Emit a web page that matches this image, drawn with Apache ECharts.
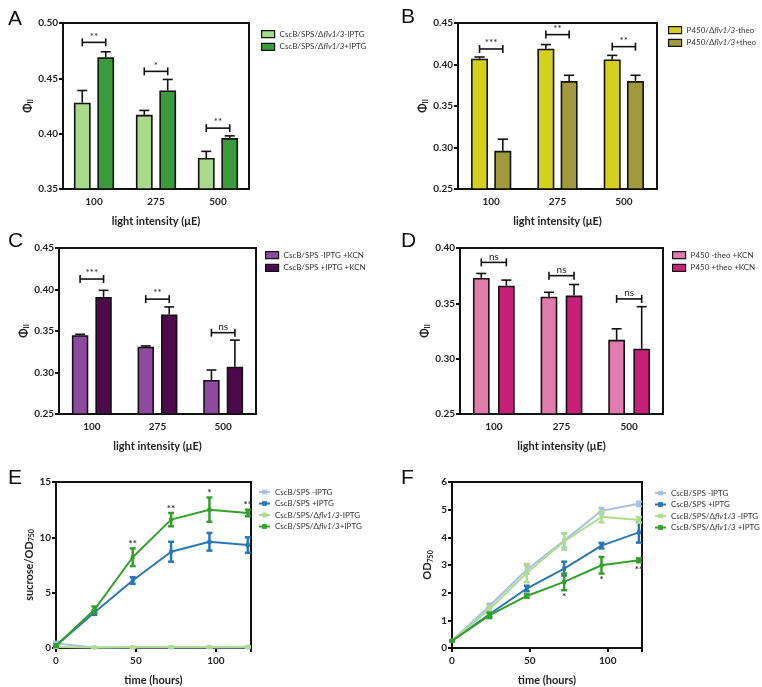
<!DOCTYPE html>
<html>
<head>
<meta charset="utf-8">
<title>Phi II and sucrose</title>
<script src="https://cdn.jsdelivr.net/npm/echarts@6/dist/echarts.min.js"></script>
<style>
  html, body { margin: 0; padding: 0; background: #fff; }
  #main { width: 762px; height: 687px; }
</style>
</head>
<body>
<div id="main"></div>
<script>
// categories + values
var lightCats = ['100', '275', '500'];

var aMinus = [0.428, 0.417, 0.378], aMinusErr = [0.011, 0.004, 0.006];
var aPlus = [0.469, 0.439, 0.396], aPlusErr = [0.005, 0.010, 0.002];
var aSigY = [0.4825, 0.4563, 0.405], aSig = ['**', '*', '**'];

var bMinus = [0.407, 0.419, 0.406], bMinusErr = [0.002, 0.005, 0.005];
var bPlus = [0.296, 0.380, 0.380], bPlusErr = [0.014, 0.007, 0.007];
var bSigY = [0.4187, 0.436, 0.4215], bSig = ['***', '**', '**'];

var cMinus = [0.345, 0.331, 0.291], cMinusErr = [0.001, 0.001, 0.012];
var cPlus = [0.391, 0.370, 0.307], cPlusErr = [0.008, 0.009, 0.032];
var cSigY = [0.4126, 0.3884, 0.348], cSig = ['***', '**', 'ns'];

var dMinus = [0.373, 0.356, 0.317], dMinusErr = [0.004, 0.004, 0.010];
var dPlus = [0.366, 0.357, 0.309], dPlusErr = [0.005, 0.010, 0.038];
var dSigY = [0.387, 0.375, 0.354], dSig = ['ns', 'ns', 'ns'];

var hours = [0, 24, 48, 72, 96, 120];

var eCtrl = [0.40, 0.05, 0.05, 0.05, 0.05, 0.05], eCtrlErr = [0.15, 0.03, 0.03, 0.03, 0.03, 0.03];
var eInd = [0.20, 3.20, 6.10, 8.70, 9.60, 9.30], eIndErr = [0.10, 0.20, 0.30, 0.90, 0.80, 0.70];
var eMutCtrl = [0.10, 0.05, 0.08, 0.10, 0.10, 0.12], eMutCtrlErr = [0.05, 0.03, 0.03, 0.03, 0.03, 0.03];
var eMutInd = [0.20, 3.45, 8.20, 11.60, 12.50, 12.20], eMutIndErr = [0.10, 0.30, 0.80, 0.60, 1.10, 0.30];
var eSigX = [48, 72, 96, 120], eSigY = [9.4, 12.6, 14.0, 12.9], eSig = ['**', '**', '*', '**'];

var fCtrl = [0.26, 1.52, 2.83, 3.88, 4.96, 5.21], fCtrlErr = [0.02, 0.08, 0.15, 0.25, 0.10, 0.08];
var fInd = [0.26, 1.22, 2.15, 2.87, 3.70, 4.18], fIndErr = [0.02, 0.08, 0.10, 0.25, 0.10, 0.37];
var fMutCtrl = [0.26, 1.40, 2.71, 3.85, 4.74, 4.63], fMutCtrlErr = [0.02, 0.10, 0.33, 0.30, 0.20, 0.10];
var fMutInd = [0.26, 1.18, 1.88, 2.39, 2.99, 3.17], fMutIndErr = [0.02, 0.10, 0.06, 0.30, 0.30, 0.07];
var fSigX = [72, 96, 120], fSigY = [1.85, 2.45, 2.82], fSig = ['*', '*', '**'];

var FONT = 'Lato';
var INK = '#222';

var chart = echarts.init(document.getElementById('main'));

var grids = [], xAxes = [], yAxes = [], series = [], legends = [], titles = [];

// legend names get a panel suffix so E and A do not share a legend entry
function legendText(name) {
  return name.replace(/~\w$/, '').replace('flv1/3', '{i|flv1/3}');
}

function yName(txt) {
  return {
    name: txt,
    nameLocation: 'middle',
    nameRotate: 90,
    nameTextStyle: {
      color: INK, fontFamily: FONT, fontWeight: 'bold', fontSize: 11,
      rich: {
        s: { fontSize: 7, fontWeight: 'bold', fontFamily: FONT, color: INK, padding: [6, 0, 0, 0] }
      }
    }
  };
}

function axisBase() {
  return {
    axisLine: { show: true, lineStyle: { color: '#111', width: 2 } },
    axisTick: { show: true, length: 4, inside: false, lineStyle: { color: '#111', width: 2 } },
    splitLine: { show: false },
    axisLabel: { color: INK, fontFamily: FONT, fontWeight: 'bold', fontSize: 10 }
  };
}

function legendStyle() {
  return { color: '#333', fontFamily: FONT, fontSize: 8,
    rich: { i: { fontStyle: 'italic', fontFamily: FONT, fontSize: 8, color: '#333' } } };
}

// offsets of the two bars in a category
function barOffset(api, barW, gap) {
  var band = api.size([1, 0])[0];
  var bw = band * barW;
  return { bw: bw, off: (bw + bw * gap) / 2 };
}

function barPanel(i, box, leg, yMin, yMax, yStep, names, colors, minus, minusErr, plus, plusErr, sigY, sig, barW, gap) {
  grids.push({ left: box[0], top: box[1], width: box[2], height: box[3], show: true,
    borderColor: '#111', borderWidth: 2, containLabel: false });
  var xa = axisBase();
  xa.type = 'category';
  xa.data = lightCats;
  xa.gridIndex = i;
  xa.axisTick = { show: false };
  xa.axisLabel.margin = 8;
  xa.name = 'light intensity (\u03bcE)';
  xa.nameLocation = 'middle';
  xa.nameGap = 27;
  xa.nameTextStyle = { color: INK, fontFamily: FONT, fontWeight: 'bold', fontSize: 11 };
  xAxes.push(xa);
  var ya = Object.assign(axisBase(), yName('\u03a6{s|II}'));
  ya.type = 'value';
  ya.gridIndex = i;
  ya.min = yMin; ya.max = yMax; ya.interval = yStep;
  ya.nameGap = 26;
  ya.axisLabel.formatter = function (v) { return v.toFixed(2); };
  ya.axisLabel.margin = 5;
  yAxes.push(ya);

  [[names[0], colors[0], minus], [names[1], colors[1], plus]].forEach(function (s) {
    series.push({
      type: 'bar', name: s[0], xAxisIndex: i, yAxisIndex: i,
      data: s[2], barWidth: (barW * 100) + '%', barGap: (gap * 100) + '%',
      itemStyle: { color: s[1], borderColor: '#111', borderWidth: 1.6 },
      z: 2
    });
  });

  var errData = [];
  minus.forEach(function (v, k) { errData.push([k, v, minusErr[k], -1]); });
  plus.forEach(function (v, k) { errData.push([k, v, plusErr[k], 1]); });
  series.push({
    type: 'custom', xAxisIndex: i, yAxisIndex: i, data: errData, z: 3, silent: true,
    renderItem: function (params, api) {
      var c = api.value(0), v = api.value(1), e = api.value(2), side = api.value(3);
      var o = barOffset(api, barW, gap);
      var p0 = api.coord([c, v]);
      var x = p0[0] + side * o.off;
      var y1 = api.coord([c, v + e])[1];
      var cw = o.bw * 0.6;
      var st = { stroke: '#111', lineWidth: 1.6 };
      return { type: 'group', children: [
        { type: 'line', shape: { x1: x, y1: p0[1], x2: x, y2: y1 }, style: st },
        { type: 'line', shape: { x1: x - cw / 2, y1: y1, x2: x + cw / 2, y2: y1 }, style: st }
      ] };
    }
  });

  series.push({
    type: 'custom', xAxisIndex: i, yAxisIndex: i, z: 4, silent: true,
    data: sigY.map(function (y, k) { return [k, y]; }),
    renderItem: function (params, api) {
      var c = api.value(0), y = api.value(1);
      var o = barOffset(api, barW, gap);
      var p = api.coord([c, y]);
      var xl = p[0] - o.off, xr = p[0] + o.off;
      var st = { stroke: '#111', lineWidth: 1.6 };
      return { type: 'group', children: [
        { type: 'line', shape: { x1: xl, y1: p[1], x2: xr, y2: p[1] }, style: st },
        { type: 'line', shape: { x1: xl, y1: p[1] - 4, x2: xl, y2: p[1] + 4 }, style: st },
        { type: 'line', shape: { x1: xr, y1: p[1] - 4, x2: xr, y2: p[1] + 4 }, style: st },
        { type: 'text', style: { text: sig[params.dataIndex], x: p[0], y: p[1] - 1,
          align: 'center', verticalAlign: 'bottom', font: '10px ' + FONT, fill: INK } }
      ] };
    }
  });

  legends.push({
    left: leg[0], top: leg[1], orient: 'vertical', padding: 0,
    itemWidth: 13, itemHeight: 7, itemGap: 4.5, icon: 'rect', selectedMode: false,
    data: names,
    itemStyle: { borderColor: '#111', borderWidth: 1.2 },
    formatter: legendText,
    textStyle: legendStyle()
  });
}

function linePanel(i, box, leg, yMax, yStep, yTitle, yGap, names, colors, vals, errs, sigX, sigY, sig) {
  grids.push({ left: box[0], top: box[1], width: box[2], height: box[3], show: true,
    borderColor: '#111', borderWidth: 2, containLabel: false });
  var xa = axisBase();
  xa.type = 'value';
  xa.gridIndex = i;
  xa.min = 0; xa.max = 122; xa.interval = 50;
  xa.axisLabel.formatter = function (v) { return v % 50 === 0 ? v : ''; };
  xa.axisLabel.margin = 8;
  xa.name = 'time (hours)';
  xa.nameLocation = 'middle';
  xa.nameGap = 27;
  xa.nameTextStyle = { color: INK, fontFamily: FONT, fontWeight: 'bold', fontSize: 11 };
  xAxes.push(xa);
  var ya = Object.assign(axisBase(), yName(yTitle));
  ya.type = 'value';
  ya.gridIndex = i;
  ya.min = 0; ya.max = yMax; ya.interval = yStep;
  ya.nameGap = yGap;
  ya.axisLabel.margin = 5;
  yAxes.push(ya);

  vals.forEach(function (v, k) {
    series.push({
      type: 'line', name: names[k], xAxisIndex: i, yAxisIndex: i,
      data: hours.map(function (h, j) { return [h, v[j]]; }),
      symbol: 'rect', symbolSize: 4, showSymbol: true,
      lineStyle: { color: colors[k], width: 2 },
      itemStyle: { color: colors[k] },
      z: 2 + k
    });
    series.push({
      type: 'custom', xAxisIndex: i, yAxisIndex: i, z: 2 + k, silent: true,
      data: hours.map(function (h, j) { return [h, v[j], errs[k][j]]; }),
      renderItem: function (params, api) {
        var x = api.value(0), y = api.value(1), e = api.value(2);
        var lo = api.coord([x, y - e]), hi = api.coord([x, y + e]);
        var st = { stroke: colors[k], lineWidth: 2.5 };
        return { type: 'group', children: [
          { type: 'line', shape: { x1: lo[0], y1: lo[1], x2: hi[0], y2: hi[1] }, style: st },
          { type: 'line', shape: { x1: lo[0] - 3, y1: lo[1], x2: lo[0] + 3, y2: lo[1] }, style: st },
          { type: 'line', shape: { x1: hi[0] - 3, y1: hi[1], x2: hi[0] + 3, y2: hi[1] }, style: st }
        ] };
      }
    });
  });

  series.push({
    type: 'custom', xAxisIndex: i, yAxisIndex: i, z: 10, silent: true,
    data: sigX.map(function (x, k) { return [x, sigY[k]]; }),
    renderItem: function (params, api) {
      var p = api.coord([api.value(0), api.value(1)]);
      return { type: 'text', style: { text: sig[params.dataIndex], x: p[0], y: p[1],
        align: 'center', verticalAlign: 'middle', font: 'bold 10px ' + FONT, fill: '#333' } };
    }
  });

  legends.push({
    left: leg[0], top: leg[1], orient: 'vertical', padding: 0,
    itemWidth: 11, itemHeight: 6, itemGap: 3.5, selectedMode: false,
    data: names,
    formatter: legendText,
    textStyle: legendStyle()
  });
}

barPanel(0, [63, 23, 186, 166], [261, 30], 0.35, 0.50, 0.05,
  ['CscB/SPS/\u0394flv1/3-IPTG', 'CscB/SPS/\u0394flv1/3+IPTG'], ['#a9d98b', '#3a9b3a'],
  aMinus, aMinusErr, aPlus, aPlusErr, aSigY, aSig, 0.27, 0.40);
barPanel(1, [458, 23, 199, 166], [668, 26], 0.25, 0.45, 0.05,
  ['P450/\u0394flv1/3-theo', 'P450/\u0394flv1/3+theo'], ['#d5d01e', '#a09a3c'],
  bMinus, bMinusErr, bPlus, bPlusErr, bSigY, bSig, 0.256, 0.37);
barPanel(2, [59, 248, 197, 166], [265, 251], 0.25, 0.45, 0.05,
  ['CscB/SPS -IPTG +KCN', 'CscB/SPS +IPTG +KCN'], ['#8e4a9e', '#4c0a4c'],
  cMinus, cMinusErr, cPlus, cPlusErr, cSigY, cSig, 0.25, 0.43);
barPanel(3, [460, 248, 203, 166], [672, 251], 0.25, 0.40, 0.05,
  ['P450 -theo +KCN', 'P450 +theo +KCN'], ['#e07bab', '#c81f78'],
  dMinus, dMinusErr, dPlus, dPlusErr, dSigY, dSig, 0.247, 0.50);

var lineColors = ['#a9c1e0', '#2a77b6', '#addd8e', '#33a02c'];
linePanel(4, [56, 482, 195, 167], [258, 488], 15, 5, 'sucrose/OD{s|750}', 20,
  ['CscB/SPS -IPTG~E', 'CscB/SPS +IPTG~E', 'CscB/SPS/\u0394flv1/3-IPTG~E', 'CscB/SPS/\u0394flv1/3+IPTG~E'],
  lineColors, [eCtrl, eInd, eMutCtrl, eMutInd], [eCtrlErr, eIndErr, eMutCtrlErr, eMutIndErr],
  eSigX, eSigY, eSig);
linePanel(5, [452, 482, 190, 167], [654, 489], 6, 1, 'OD{s|750}', 18,
  ['CscB/SPS -IPTG~F', 'CscB/SPS +IPTG~F', 'CscB/SPS/\u0394flv1/3 -IPTG~F', 'CscB/SPS/\u0394flv1/3 +IPTG~F'],
  lineColors, [fCtrl, fInd, fMutCtrl, fMutInd], [fCtrlErr, fIndErr, fMutCtrlErr, fMutIndErr],
  fSigX, fSigY, fSig);

// panel letters
[['A', 3, 4], ['B', 396, 2], ['C', 3, 226], ['D', 396, 226], ['E', 3, 463], ['F', 396, 463]].forEach(function (t) {
  titles.push({ text: t[0], left: t[1], top: t[2],
    textStyle: { fontSize: 21, fontWeight: 'normal', color: '#111', fontFamily: 'Liberation Sans' } });
});

chart.setOption({
  animation: false,
  backgroundColor: '#fff',
  title: titles,
  grid: grids,
  xAxis: xAxes,
  yAxis: yAxes,
  legend: legends,
  series: series
});
</script>
</body>
</html>
